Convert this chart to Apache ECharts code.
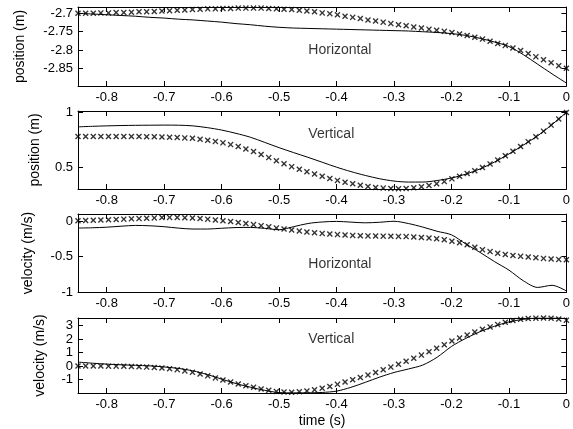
<!DOCTYPE html>
<html>
<head>
<meta charset="utf-8">
<script src="https://cdn.jsdelivr.net/npm/echarts@6/dist/echarts.min.js"></script>
<style>
    html, body { margin: 0; padding: 0; background: #fff; }
    #chart { width: 573px; height: 429px; }
</style>
</head>
<body>
<div id="chart"></div>
<script>
// 实线采样时间
const lineTime = [-0.85, -0.825, -0.8, -0.775, -0.75, -0.725, -0.7, -0.675, -0.65, -0.625,
    -0.6, -0.575, -0.55, -0.525, -0.5, -0.475, -0.45, -0.425, -0.4, -0.375,
    -0.35, -0.325, -0.3, -0.275, -0.25, -0.225, -0.2, -0.175, -0.15, -0.125,
    -0.1, -0.075, -0.05, -0.025, 0];

// 叉号采样时间
const markerTime = [-0.85, -0.8367, -0.8234, -0.8102, -0.7969, -0.7836, -0.7703, -0.7570, -0.7438, -0.7305,
    -0.7172, -0.7039, -0.6906, -0.6773, -0.6641, -0.6508, -0.6375, -0.6242, -0.6109, -0.5977,
    -0.5844, -0.5711, -0.5578, -0.5445, -0.5313, -0.5180, -0.5047, -0.4914, -0.4781, -0.4648,
    -0.4516, -0.4383, -0.4250, -0.4117, -0.3984, -0.3852, -0.3719, -0.3586, -0.3453, -0.3320,
    -0.3188, -0.3055, -0.2922, -0.2789, -0.2656, -0.2523, -0.2391, -0.2258, -0.2125, -0.1992,
    -0.1859, -0.1727, -0.1594, -0.1461, -0.1328, -0.1195, -0.1063, -0.0930, -0.0797, -0.0664,
    -0.0531, -0.0398, -0.0266, -0.0133, 0];

// 水平位置
const posHLine = [-2.700, -2.702, -2.704, -2.706, -2.708, -2.711, -2.713, -2.716, -2.718, -2.721,
    -2.724, -2.728, -2.731, -2.735, -2.738, -2.740, -2.741, -2.742, -2.743, -2.744,
    -2.745, -2.746, -2.747, -2.748, -2.750, -2.752, -2.755, -2.760, -2.768, -2.778,
    -2.790, -2.812, -2.838, -2.864, -2.889];
const posHMarker = [-2.700, -2.700, -2.700, -2.699, -2.699, -2.698, -2.698, -2.697, -2.696, -2.696,
    -2.695, -2.694, -2.693, -2.692, -2.691, -2.690, -2.689, -2.688, -2.688, -2.687,
    -2.687, -2.686, -2.686, -2.686, -2.686, -2.687, -2.688, -2.689, -2.690, -2.692,
    -2.694, -2.696, -2.699, -2.701, -2.704, -2.708, -2.711, -2.714, -2.718, -2.721,
    -2.724, -2.728, -2.731, -2.734, -2.737, -2.740, -2.743, -2.746, -2.749, -2.752,
    -2.756, -2.760, -2.765, -2.770, -2.776, -2.782, -2.787, -2.794, -2.801, -2.809,
    -2.818, -2.826, -2.834, -2.842, -2.849];

// 垂直位置
const posVLine = [0.869, 0.874, 0.878, 0.881, 0.883, 0.884, 0.885, 0.884, 0.878, 0.862,
    0.840, 0.810, 0.775, 0.728, 0.680, 0.636, 0.593, 0.548, 0.503, 0.463,
    0.428, 0.398, 0.377, 0.368, 0.368, 0.382, 0.405, 0.440, 0.488, 0.550,
    0.623, 0.703, 0.788, 0.890, 1.000];
const posVMarker = [0.782, 0.782, 0.782, 0.782, 0.782, 0.782, 0.782, 0.782, 0.781, 0.780,
    0.779, 0.777, 0.775, 0.772, 0.769, 0.765, 0.757, 0.748, 0.737, 0.724,
    0.708, 0.690, 0.668, 0.645, 0.618, 0.590, 0.562, 0.534, 0.508, 0.485,
    0.462, 0.441, 0.420, 0.401, 0.383, 0.367, 0.352, 0.339, 0.328, 0.319,
    0.313, 0.309, 0.308, 0.310, 0.316, 0.325, 0.337, 0.352, 0.372, 0.397,
    0.420, 0.445, 0.470, 0.500, 0.533, 0.568, 0.607, 0.648, 0.690, 0.735,
    0.780, 0.830, 0.885, 0.940, 1.000];

// 水平速度
const velHLine = [-0.094, -0.090, -0.082, -0.068, -0.057, -0.062, -0.075, -0.095, -0.108, -0.108,
    -0.097, -0.087, -0.085, -0.098, -0.118, -0.075, -0.030, -0.008, 0.000, -0.010,
    -0.020, -0.012, 0.002, -0.030, -0.080, -0.140, -0.190, -0.320, -0.440, -0.570,
    -0.690, -0.840, -0.935, -0.905, -0.985];
const velHMarker = [0.010, 0.013, 0.016, 0.020, 0.024, 0.028, 0.032, 0.036, 0.040, 0.045,
    0.050, 0.055, 0.057, 0.056, 0.053, 0.048, 0.041, 0.032, 0.021, 0.010,
    -0.002, -0.015, -0.030, -0.045, -0.060, -0.076, -0.092, -0.107, -0.122, -0.136,
    -0.149, -0.160, -0.170, -0.179, -0.187, -0.193, -0.198, -0.202, -0.205, -0.207,
    -0.209, -0.210, -0.212, -0.215, -0.220, -0.227, -0.235, -0.246, -0.260, -0.280,
    -0.302, -0.330, -0.365, -0.400, -0.428, -0.450, -0.468, -0.482, -0.495, -0.505,
    -0.515, -0.524, -0.532, -0.538, -0.543];

// 垂直速度
const velVLine = [0.29, 0.21, 0.14, 0.09, 0.05, 0.01, -0.07, -0.18, -0.36, -0.63,
    -0.97, -1.30, -1.57, -1.80, -1.97, -1.99, -1.99, -1.96, -1.86, -1.58,
    -1.21, -0.82, -0.48, -0.22, 0.07, 0.65, 1.45, 2.05, 2.55, 2.95,
    3.27, 3.46, 3.56, 3.56, 3.52];
const velVMarker = [0.00, 0.00, 0.00, 0.00, -0.01, -0.01, -0.02, -0.04, -0.06, -0.08,
    -0.11, -0.15, -0.20, -0.27, -0.36, -0.47, -0.59, -0.73, -0.88, -1.04,
    -1.19, -1.33, -1.46, -1.58, -1.70, -1.80, -1.88, -1.93, -1.94, -1.91,
    -1.85, -1.76, -1.65, -1.52, -1.36, -1.19, -1.02, -0.85, -0.67, -0.48,
    -0.28, -0.08, 0.13, 0.35, 0.58, 0.81, 1.06, 1.32, 1.58, 1.85,
    2.08, 2.30, 2.52, 2.72, 2.90, 3.07, 3.24, 3.37, 3.46, 3.52,
    3.55, 3.56, 3.54, 3.49, 3.40];

// 刻度
const xTicks = [-0.8, -0.7, -0.6, -0.5, -0.4, -0.3, -0.2, -0.1, 0];
const yTicks1 = [-2.85, -2.8, -2.75, -2.7];
const yTicks2 = [0.5, 1];
const yTicks3 = [-1, -0.5, 0];
const yTicks4 = [-1, 0, 1, 2, 3];

// 文字标注
const annotText = ['Horizontal', 'Vertical', 'Horizontal', 'Vertical'];
const annotX = [-0.45, -0.45, -0.45, -0.45];
const annotY = [-2.8, 0.8, -0.6, 2];

const FONT = '"Liberation Sans", Arial, Helvetica, sans-serif';

const panels = [
    { top: 7, height: 79, min: -2.897, max: -2.683, ticks: yTicks1, name: 'position (m)', gap: 51, line: posHLine, marker: posHMarker },
    { top: 111, height: 78, min: 0.305, max: 1.013, ticks: yTicks2, name: 'position (m)', gap: 36, line: posVLine, marker: posVMarker },
    { top: 214, height: 78, min: -1, max: 0.105, ticks: yTicks3, name: 'velocity (m/s)', gap: 43, line: velHLine, marker: velHMarker },
    { top: 318, height: 77, min: -2, max: 3.56, ticks: yTicks4, name: 'velocity (m/s)', gap: 31, line: velVLine, marker: velVMarker }
];

// 叉号标记
const crossPath = 'path://M0,1.6L1.6,0L5,3.4L8.4,0L10,1.6L6.6,5L10,8.4L8.4,10L5,6.6L1.6,10L0,8.4L3.4,5Z';

function axisBase() {
    return {
        type: 'value',
        axisLine: { onZero: false, lineStyle: { color: '#000', width: 1 } },
        splitLine: { show: false }
    };
}

const grid = [], xAxis = [], yAxis = [], series = [];

panels.forEach(function(p, k) {
    grid.push({ left: 78, right: 4, top: p.top, height: p.height });

    // 下方x轴
    xAxis.push(Object.assign(axisBase(), {
        gridIndex: k, position: 'bottom', min: -0.85, max: 0,
        axisTick: { inside: true, length: 5, customValues: xTicks, lineStyle: { color: '#000' } },
        axisLabel: { customValues: xTicks, color: '#000', fontSize: 13, margin: 5, fontFamily: FONT },
        name: k === 3 ? 'time (s)' : '',
        nameLocation: 'middle', nameGap: 21,
        nameTextStyle: { color: '#000', fontSize: 14, fontFamily: FONT }
    }));
    // 上方x轴（仅刻度）
    xAxis.push(Object.assign(axisBase(), {
        gridIndex: k, position: 'top', min: -0.85, max: 0,
        axisTick: { inside: true, length: 5, customValues: xTicks, lineStyle: { color: '#000' } },
        axisLabel: { show: false }
    }));
    // 左侧y轴
    yAxis.push(Object.assign(axisBase(), {
        gridIndex: k, position: 'left', min: p.min, max: p.max,
        axisTick: { inside: true, length: 5, customValues: p.ticks, lineStyle: { color: '#000' } },
        axisLabel: { customValues: p.ticks, color: '#000', fontSize: 13, margin: 5, fontFamily: FONT },
        name: p.name, nameLocation: 'middle', nameGap: p.gap,
        nameTextStyle: { color: '#000', fontSize: 14, fontFamily: FONT }
    }));
    // 右侧y轴（仅刻度）
    yAxis.push(Object.assign(axisBase(), {
        gridIndex: k, position: 'right', min: p.min, max: p.max,
        axisTick: { inside: true, length: 5, customValues: p.ticks, lineStyle: { color: '#000' } },
        axisLabel: { show: false }
    }));

    series.push({
        type: 'line',
        xAxisIndex: k * 2, yAxisIndex: k * 2,
        data: lineTime.map((t, i) => [t, p.line[i]]),
        showSymbol: false, smooth: 0.3,
        lineStyle: { color: '#000', width: 1 },
        silent: true, animation: false
    });
    series.push({
        type: 'scatter',
        xAxisIndex: k * 2, yAxisIndex: k * 2,
        data: markerTime.map((t, i) => [t, p.marker[i]]),
        symbol: crossPath, symbolSize: 6,
        itemStyle: { color: '#000' },
        clip: false, silent: true, animation: false
    });
    series.push({
        type: 'scatter',
        xAxisIndex: k * 2, yAxisIndex: k * 2,
        data: [[annotX[k], annotY[k]]],
        symbolSize: 1,
        itemStyle: { color: 'transparent' },
        label: {
            show: true, position: 'right', distance: 0,
            formatter: annotText[k], color: '#000', fontSize: 14, fontFamily: FONT
        },
        silent: true, animation: false
    });
});

const chart = echarts.init(document.getElementById('chart'));
chart.setOption({
    animation: false,
    backgroundColor: '#fff',
    grid: grid,
    xAxis: xAxis,
    yAxis: yAxis,
    series: series
});
</script>
</body>
</html>
